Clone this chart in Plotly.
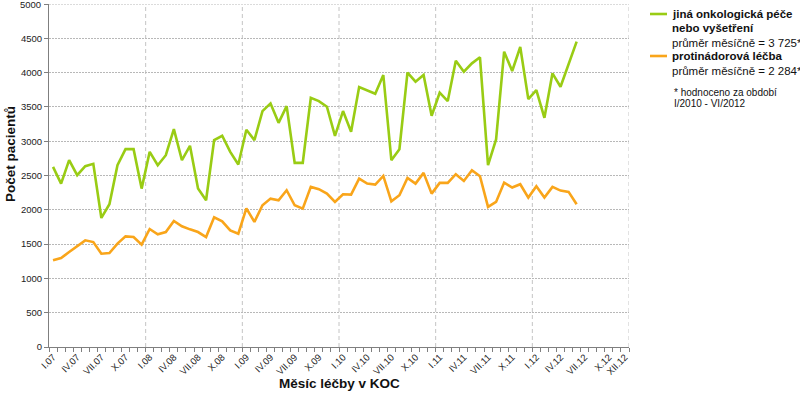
import plotly.graph_objects as go

# ---- data ----
months_roman = ["I", "II", "III", "IV", "V", "VI", "VII", "VIII", "IX", "X", "XI", "XII"]
years = ["07", "08", "09", "10", "11", "12"]
categories = [f"{m}.{y}" for y in years for m in months_roman]

jina_pece = [
    2626, 2382, 2723, 2504, 2636, 2670, 1881, 2081, 2650, 2884, 2884, 2309,
    2845, 2650, 2796, 3176, 2723, 2933, 2309, 2139, 3015, 3079, 2845, 2660,
    3166, 3015, 3439, 3551, 3268, 3512, 2684, 2684, 3633, 3585, 3502, 3079,
    3439, 3137, 3789, 3741, 3692, 3965, 2723, 2884, 3999, 3867, 3965, 3371,
    3707, 3585, 4174, 4013, 4135, 4223, 2650, 3025, 4305, 4023, 4373, 3614,
    3746, 3341, 3989, 3794, 4120, 4451,
]
protinadorova = [
    1263, 1297, 1384, 1467, 1555, 1530, 1360, 1370, 1507, 1613, 1603, 1492,
    1720, 1643, 1676, 1837, 1759, 1715, 1676, 1603, 1891, 1832, 1700, 1652,
    2022, 1823, 2066, 2163, 2139, 2285, 2066, 2017, 2334, 2300, 2236, 2115,
    2227, 2222, 2455, 2382, 2368, 2494, 2124, 2212, 2465, 2382, 2538, 2236,
    2392, 2392, 2519, 2421, 2577, 2490, 2042, 2115, 2397, 2324, 2373, 2178,
    2343, 2178, 2334, 2280, 2261, 2081,
]
label_step = 3
tick_idx = list(range(0, len(categories), label_step)) + [len(categories) - 1]
tick_text = [categories[i] for i in tick_idx]

legend_green = ["<b>jiná onkologická péče</b>", "<b>nebo vyšetření</b>", "průměr měsíčně = 3 725*"]
legend_orange = ["<b>protinádorová léčba</b>", "průměr měsíčně = 2 284*"]
footnote = ["* hodnoceno za období", "I/2010 - VI/2012"]

GREEN = "#99CC14"
ORANGE = "#F9A51A"
FONT = "Liberation Sans, Arial, sans-serif"

W, H = 800, 398
L, R, T, B = 49, 171, 4, 51

def px(xp):
    return (xp - L) / (W - L - R)

def py(yp):
    return 1 - (yp - T) / (H - T - B)

x_idx = list(range(len(categories)))

fig = go.Figure()
fig.add_trace(go.Scatter(x=x_idx[:len(jina_pece)], y=jina_pece, mode="lines",
                         line=dict(color=GREEN, width=2.6), showlegend=False))
fig.add_trace(go.Scatter(x=x_idx[:len(protinadorova)], y=protinadorova, mode="lines",
                         line=dict(color=ORANGE, width=2.6), showlegend=False))

shapes = []
for k in range(12, len(categories) + 1, 12):
    shapes.append(dict(type="line", xref="x", yref="paper", x0=k - 0.5, x1=k - 0.5, y0=0, y1=1,
                       line=dict(color="#C4C4C4", width=1, dash="4px,3px"), layer="below"))
# top gridline at the axis maximum
shapes.append(dict(type="line", xref="paper", yref="y", x0=0, x1=1, y0=5000, y1=5000,
                   line=dict(color="#B8B8B8", width=1, dash="2px,1px"), layer="below"))
# legend line samples
shapes.append(dict(type="line", xref="paper", yref="paper", x0=px(650), x1=px(667),
                   y0=py(14), y1=py(14), line=dict(color=GREEN, width=2.6)))
shapes.append(dict(type="line", xref="paper", yref="paper", x0=px(650), x1=px(667),
                   y0=py(56), y1=py(56), line=dict(color=ORANGE, width=2.6)))

annotations = []
for text, yp in zip(legend_green + legend_orange, [13.5, 28.5, 42.5, 56, 70.5]):
    annotations.append(dict(text=text, xref="paper", yref="paper", x=px(670), y=py(yp),
                            xanchor="left", yanchor="middle", showarrow=False,
                            font=dict(family=FONT, size=11.5, color="#111")))
for text, yp in zip(footnote, [92, 103.5]):
    annotations.append(dict(text=text, xref="paper", yref="paper", x=px(672), y=py(yp),
                            xanchor="left", yanchor="middle", showarrow=False,
                            font=dict(family=FONT, size=10, color="#111")))
annotations.append(dict(text="<b>Měsíc léčby v KOC</b>", xref="paper", yref="paper",
                        x=px(340), y=py(383), xanchor="center", yanchor="middle",
                        showarrow=False, font=dict(family=FONT, size=13.5, color="#111")))
annotations.append(dict(text="<b>Počet pacientů</b>", xref="paper", yref="paper",
                        x=px(10), y=py(154), xanchor="center", yanchor="middle", textangle=-90,
                        showarrow=False, font=dict(family=FONT, size=13.5, color="#111")))
annotations.append(dict(text="5000", xref="paper", yref="y", x=px(43), y=5000,
                        xanchor="right", yanchor="middle", showarrow=False,
                        font=dict(family=FONT, size=9.5, color="#222")))

fig.update_layout(
    width=W, height=H,
    margin=dict(l=L, r=R, t=T, b=B, pad=0),
    paper_bgcolor="white", plot_bgcolor="white",
    font=dict(family=FONT, size=9.5, color="#222"),
    shapes=shapes, annotations=annotations,
    xaxis=dict(range=[-0.5, len(categories) - 0.5], tickmode="array", tickvals=tick_idx,
               ticktext=tick_text, tickangle=-45, ticks="", showgrid=False, zeroline=False,
               showline=True, linecolor="#7F7F7F", linewidth=1,
               tickfont=dict(family=FONT, size=9.5, color="#222"),
               minor=dict(tick0=-0.5, dtick=1, ticks="outside", ticklen=4,
                          tickcolor="#7F7F7F", showgrid=False)),
    yaxis=dict(range=[0, 5000], tickmode="array", tickvals=list(range(0, 5001, 500)),
               ticktext=[str(v) if v < 5000 else "" for v in range(0, 5001, 500)],
               ticks="outside", ticklen=4, tickcolor="#7F7F7F",
               showline=True, linecolor="#7F7F7F", linewidth=1, zeroline=False,
               showgrid=True, gridcolor="#B8B8B8", griddash="2px,1px", gridwidth=1,
               tickfont=dict(family=FONT, size=9.5, color="#222")),
)

fig.write_html("out.html")
